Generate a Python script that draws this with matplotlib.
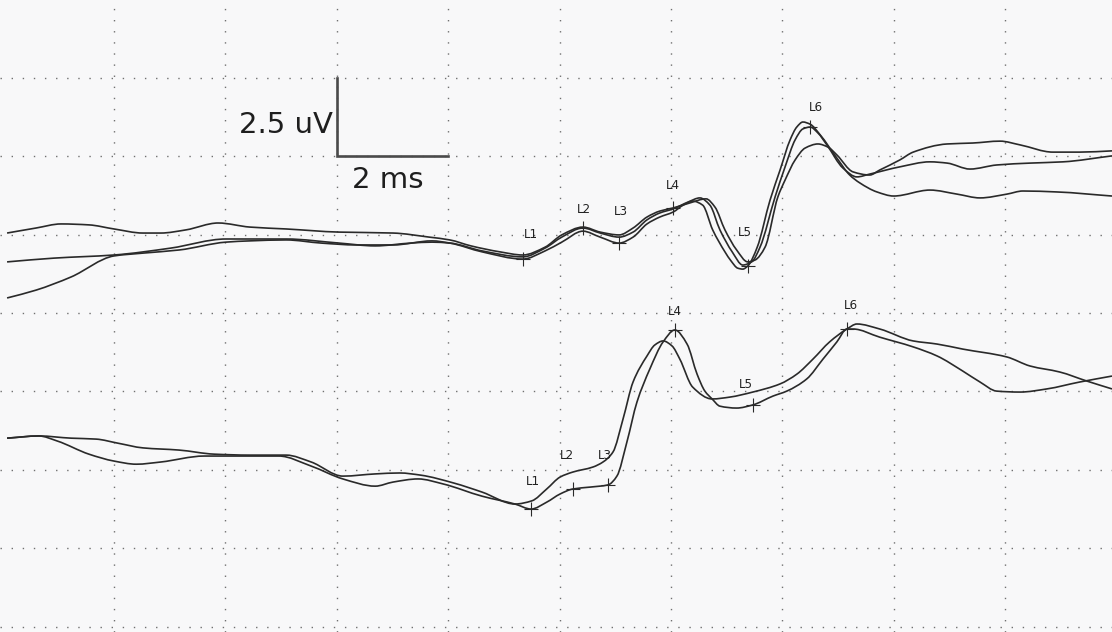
import numpy as np
import matplotlib
matplotlib.use("Agg")
import matplotlib.pyplot as plt
from matplotlib.path import Path
from matplotlib.patches import PathPatch

# Evoked potential traces: latency in ms, amplitude in uV (relative to channel baseline)

# upper channel, three superimposed runs
top_a_ms = [0.08, 0.60, 1.05, 1.55, 2.00, 2.52, 2.84, 3.29, 3.87, 4.44, 5.09, 6.04, 7.01, 7.66,
            8.03, 8.41, 8.93, 9.34, 9.74, 10.04, 10.42, 10.73, 11.07, 11.32, 11.57, 11.80, 12.04,
            12.34, 12.63, 12.79, 12.97, 13.18, 13.38, 13.51, 13.69, 13.92, 14.05, 14.23, 14.41,
            14.64, 14.82, 14.98, 15.27, 15.57, 15.75, 16.11, 16.35, 16.96, 17.42, 17.91, 18.27,
            18.86, 19.34, 19.92]
top_a_uv = [0.05, 0.21, 0.34, 0.31, 0.18, 0.05, 0.05, 0.15, 0.37, 0.24, 0.18, 0.08, 0.05, -0.08,
            -0.17, -0.36, -0.55, -0.65, -0.40, -0.01, 0.24, 0.08, -0.01, 0.21, 0.56, 0.75, 0.85,
            1.01, 1.14, 0.88, 0.15, -0.49, -0.87, -0.81, -0.40, 1.20, 1.74, 2.38, 2.76,
            2.89, 2.79, 2.54, 2.00, 1.90, 2.06, 2.38, 2.63, 2.89, 2.92, 2.98, 2.86,
            2.63, 2.63, 2.67]

top_b_ms = [0.08, 0.92, 2.00, 3.02, 4.01, 5.09, 6.04, 6.69, 7.33, 7.71, 8.03, 8.61, 9.34, 9.74,
            10.04, 10.42, 10.73, 11.07, 11.32, 11.57, 11.80, 12.04, 12.31, 12.52, 12.70, 12.88,
            13.10, 13.29, 13.45, 13.60, 13.87, 14.05, 14.23, 14.37, 14.50, 14.64, 14.80, 15.09,
            15.34, 15.57, 16.11, 16.65, 16.96, 17.37, 17.85, 18.45, 19.04, 19.92]
top_b_uv = [-0.87, -0.75, -0.65, -0.43, -0.14, -0.14, -0.27, -0.36, -0.27, -0.24, -0.27, -0.52,
            -0.71, -0.43, -0.08, 0.21, 0.05, -0.08, 0.08, 0.47, 0.69, 0.82, 1.04, 1.17, 0.94, 0.15,
            -0.55, -0.97, -0.87, -0.40, 1.20, 2.16, 3.02, 3.37, 3.43, 3.24, 2.86, 2.12,
            1.84, 1.93, 2.16, 2.32, 2.28, 2.09, 2.22, 2.28, 2.32, 2.51]

top_c_ms = [0.08, 0.60, 1.23, 2.00, 2.52, 3.17, 4.01, 4.44, 5.09, 5.72, 6.36, 7.01, 7.71, 8.03,
            8.61, 9.34, 9.74, 10.04, 10.42, 10.73, 11.07, 11.32, 11.57, 11.80, 12.04, 12.22,
            12.39, 12.57, 12.75, 12.97, 13.08, 13.20, 13.29, 13.38, 13.55, 13.78, 13.96, 14.14,
            14.26, 14.37, 14.50, 14.68, 14.98, 15.21, 15.39, 15.70, 16.00, 16.65, 17.14, 17.55,
            18.03, 18.32, 18.93, 19.92]
top_c_uv = [-2.02, -1.77, -1.35, -0.68, -0.59, -0.49, -0.24, -0.20, -0.17, -0.27, -0.33, -0.33,
            -0.20, -0.27, -0.55, -0.78, -0.52, -0.24, 0.11, -0.08, -0.27, -0.08, 0.34, 0.56, 0.72,
            0.94, 1.07, 0.94, 0.15, -0.55, -0.84, -1.07, -1.10, -1.00, -0.40, 1.10, 2.06, 3.02,
            3.43, 3.59, 3.52, 3.18, 2.44, 1.90, 1.65, 1.36, 1.23, 1.42, 1.29, 1.17,
            1.29, 1.39, 1.36, 1.23]

# lower channel, two superimposed runs
bot_a_ms = [0.08, 0.65, 1.23, 1.68, 2.07, 2.52, 3.17, 3.80, 4.44, 5.09, 5.54, 6.11, 6.69, 7.13,
            7.51, 8.10, 8.61, 9.20, 9.50, 9.77, 10.01, 10.24, 10.60, 10.78, 10.96, 11.14, 11.32,
            11.57, 11.71, 11.86, 12.02, 12.16, 12.39, 12.74, 13.06, 13.47, 13.96, 14.26, 14.55,
            14.85, 15.16, 15.34, 15.75, 16.35, 16.78, 17.24, 18.03, 18.45, 18.98, 19.47, 19.92]
bot_a_uv = [1.01, 1.08, 1.01, 0.98, 0.85, 0.70, 0.63, 0.50, 0.47, 0.47, 0.25, -0.20, -0.13, -0.10,
            -0.17, -0.42, -0.71, -1.09, -0.99, -0.61, -0.23, -0.07, 0.09, 0.25, 0.57, 1.62, 2.80,
            3.63, 3.98, 4.11, 3.95, 3.53, 2.64, 2.26, 2.32, 2.48, 2.74, 3.05, 3.53,
            4.08, 4.49, 4.65, 4.49, 4.11, 4.01, 3.85, 3.60, 3.31, 3.12, 2.83, 2.58]

bot_b_ms = [0.08, 0.65, 0.98, 1.55, 2.00, 2.40, 2.84, 3.62, 4.12, 4.96, 5.54, 6.11, 6.69, 7.01,
            7.46, 7.91, 8.61, 9.20, 9.49, 9.77, 10.01, 10.24, 10.55, 10.87, 11.03, 11.21, 11.39,
            11.62, 11.86, 12.07, 12.29, 12.47, 12.61, 12.74, 12.88, 13.18, 13.47, 13.83, 14.08,
            14.44, 14.73, 14.98, 15.16, 15.27, 15.75, 16.35, 16.78, 17.24, 17.55, 17.85, 18.27,
            18.75, 19.34, 19.92]
bot_b_uv = [1.01, 1.08, 0.92, 0.50, 0.28, 0.18, 0.25, 0.44, 0.44, 0.44, 0.12, -0.29, -0.52, -0.39,
            -0.29, -0.45, -0.84, -1.09, -1.25, -1.03, -0.77, -0.61, -0.55, -0.48, -0.20, 0.89, 2.16,
            3.21, 4.08, 4.46, 4.01, 3.05, 2.51, 2.26, 2.03, 1.97, 2.07, 2.35, 2.51,
            2.90, 3.53, 4.08, 4.49, 4.49, 4.23, 3.92, 3.63, 3.15, 2.80, 2.51, 2.48,
            2.58, 2.80, 2.99]

# peak labels and latencies (ms); which run carries the mark
peak_names = ["L1", "L2", "L3", "L4", "L5", "L6"]
top_peak_ms = [9.34, 10.42, 11.07, 12.04, 13.38, 14.50]
top_peak_run = [2, 1, 2, 0, 2, 1]
bot_peak_ms = [9.49, 10.24, 10.87, 12.07, 13.47, 15.16]
bot_peak_run = [1, 1, 1, 1, 1, 1]

TOP_BASE = 2.5
BOT_BASE = -5.0
INK = "#2a2a2a"

top_label_off = [(6, 18), (1, 13), (1, 23), (0, 16), (-2, 24), (4, 14)]
bot_label_off = [(1, 20), (-4, 24), (-2, 21), (0, 13), (-5, 15), (3, 17)]


def pchip_slopes(x, y):
    h = np.diff(x)
    d = np.diff(y) / h
    m = np.zeros_like(y)
    m[0], m[-1] = d[0], d[-1]
    for i in range(1, len(x) - 1):
        if d[i - 1] * d[i] > 0:
            w1 = 2 * h[i] + h[i - 1]
            w2 = h[i] + 2 * h[i - 1]
            m[i] = (w1 + w2) / (w1 / d[i - 1] + w2 / d[i])
    return m


def trace_path(x, y):
    # cubic bezier through the read points (no overshoot between them)
    x = np.asarray(x, float)
    y = np.asarray(y, float)
    m = pchip_slopes(x, y)
    verts = [(x[0], y[0])]
    codes = [Path.MOVETO]
    for i in range(len(x) - 1):
        h = (x[i + 1] - x[i]) / 3
        verts += [(x[i] + h, y[i] + m[i] * h),
                  (x[i + 1] - h, y[i + 1] - m[i + 1] * h),
                  (x[i + 1], y[i + 1])]
        codes += [Path.CURVE4] * 3
    return Path(verts, codes)


fig = plt.figure(figsize=(11.12, 6.32), dpi=100)
fig.patch.set_facecolor("#f8f8f9")
ax = fig.add_axes([0, 0, 1, 1])
ax.set_facecolor("#f8f8f9")
ax.set_xlim(-0.047, 19.92)
ax.set_ylim(-10.17, 9.98)
ax.axis("off")

# dotted paper grid: 2 ms x 2.5 uV
grid_kw = dict(color="#707070", lw=1.0, linestyle=(0, (1, 7)), zorder=1)
for t in range(2, 20, 2):
    ax.axvline(t, **grid_kw)
for v in np.arange(-10, 10, 2.5):
    ax.axhline(v, **grid_kw)


def draw_channel(runs, base, peak_ms, peak_run, offsets):
    for ms, uv in runs:
        p = trace_path(ms, np.array(uv) + base)
        ax.add_patch(PathPatch(p, fill=False, ec=INK, lw=1.2, zorder=3))
    for name, t, r, off in zip(peak_names, peak_ms, peak_run, offsets):
        ms, uv = runs[r]
        v = np.interp(t, ms, uv) + base
        ax.plot(t, v, marker="+", ms=10, mew=0.8, color=INK, zorder=4)
        ax.annotate(name, (t, v), xytext=off, textcoords="offset points",
                    ha="center", va="center", fontsize=9.5, color="#222222",
                    family="DejaVu Sans", stretch="condensed")


draw_channel([(top_a_ms, top_a_uv), (top_b_ms, top_b_uv), (top_c_ms, top_c_uv)],
             TOP_BASE, top_peak_ms, top_peak_run, top_label_off)
draw_channel([(bot_a_ms, bot_a_uv), (bot_b_ms, bot_b_uv)],
             BOT_BASE, bot_peak_ms, bot_peak_run, bot_label_off)

# calibration bar
ax.plot([6, 6, 8], [7.5, 5, 5], color="#4a4a4a", lw=1.9, solid_joinstyle="miter", zorder=5)
ax.text(5.93, 6.0, "2.5 uV", ha="right", va="center", fontsize=21, color="#1e1e1e")
ax.text(6.27, 4.24, "2 ms", ha="left", va="center", fontsize=21, color="#1e1e1e")

fig.savefig("out.png", dpi=100, facecolor=fig.get_facecolor())
